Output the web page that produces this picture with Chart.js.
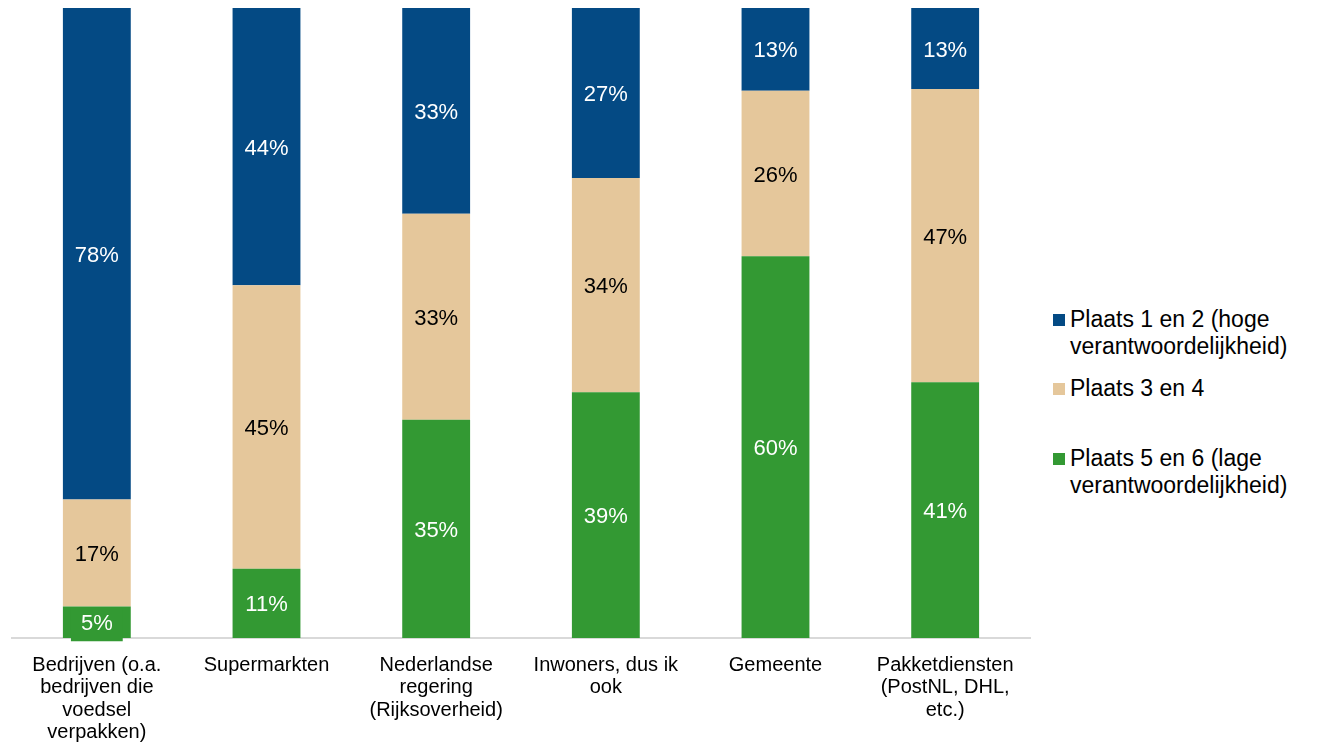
<!DOCTYPE html>
<html>
<head>
<meta charset="utf-8">
<script src="https://cdn.jsdelivr.net/npm/chart.js@4/dist/chart.umd.min.js"></script>
<style>
  body { margin: 0; background: #fff; font-family: "Liberation Sans", Arial, sans-serif; }
  #wrap { position: absolute; left: 0; top: 0; width: 1040px; height: 750px; }
  #legend { position: absolute; left: 1053px; top: 306px; font-size: 23px; line-height: 27px; color: #000; white-space: nowrap; }
  .item { position: relative; padding-left: 17px; }
  .box { position: absolute; left: 0; top: 8px; width: 12px; height: 12px; }
</style>
</head>
<body>
<div id="wrap"><canvas id="chart"></canvas></div>
<div id="legend"></div>
<script>
const categories = [
    ["Bedrijven (o.a.", "bedrijven die", "voedsel", "verpakken)"],
    ["Supermarkten"],
    ["Nederlandse", "regering", "(Rijksoverheid)"],
    ["Inwoners, dus ik", "ook"],
    ["Gemeente"],
    ["Pakketdiensten", "(PostNL, DHL,", "etc.)"]
];
const seriesNames = [
    ["Plaats 1 en 2 (hoge", "verantwoordelijkheid)"],
    ["Plaats 3 en 4"],
    ["Plaats 5 en 6 (lage", "verantwoordelijkheid)"]
];
const place12 = [78, 44, 33, 27, 13, 13];
const place34 = [17, 45, 33, 34, 26, 47];
const place56 = [5, 11, 35, 39, 60, 41];
const colors = ["#044a84", "#e5c79b", "#339933"];
const labelColors = ["#ffffff", "#000000", "#ffffff"];

const raw = [place12, place34, place56];
const totals = categories.map((_, i) => raw.reduce((s, arr) => s + arr[i], 0));

// green at the bottom, blue on top
const stackOrder = [2, 1, 0];

const valueLabels = {
    id: "valueLabels",
    afterDatasetsDraw(chart) {
        const ctx = chart.ctx;
        ctx.save();
        ctx.font = '22px "Liberation Sans", Arial, sans-serif';
        ctx.textAlign = "center";
        ctx.textBaseline = "middle";
        chart.data.datasets.forEach((ds, di) => {
            const meta = chart.getDatasetMeta(di);
            meta.data.forEach((bar, i) => {
                const txt = ds.rawValues[i] + "%";
                const cy = (bar.y + bar.base) / 2;
                const h = bar.base - bar.y;
                if (h < 34) {
                    // small segment: label gets its own box in the bar colour
                    const w = ctx.measureText(txt).width + 20;
                    ctx.fillStyle = ds.backgroundColor;
                    ctx.fillRect(bar.x - w / 2, cy - 15, w, 34);
                }
                ctx.fillStyle = ds.labelColor;
                ctx.fillText(txt, bar.x, cy + 2);
            });
        });
        ctx.restore();
    }
};

new Chart(document.getElementById("chart"), {
    type: "bar",
    data: {
        labels: categories,
        datasets: stackOrder.map(k => ({
            label: seriesNames[k].join(" "),
            data: raw[k].map((v, i) => v / totals[i] * 100),
            rawValues: raw[k],
            backgroundColor: colors[k],
            labelColor: labelColors[k],
            barPercentage: 0.4,
            categoryPercentage: 1
        }))
    },
    options: {
        responsive: true,
        maintainAspectRatio: false,
        animation: false,
        layout: { padding: { left: 12, right: 10, top: 8, bottom: 0 } },
        plugins: { legend: { display: false }, tooltip: { enabled: false } },
        scales: {
            x: {
                stacked: true,
                grid: { display: false },
                border: { display: true, color: "#d9d9d9", width: 2 },
                ticks: {
                    color: "#000",
                    padding: 8,
                    maxRotation: 0,
                    autoSkip: false,
                    font: { family: "Liberation Sans", size: 20, lineHeight: 1.12 }
                },
                afterFit(scale) { scale.height = 112; }
            },
            y: {
                stacked: true,
                display: false,
                min: 0,
                max: 100
            }
        }
    },
    plugins: [valueLabels]
});

const legendEl = document.getElementById("legend");
seriesNames.forEach((name, k) => {
    const item = document.createElement("div");
    item.className = "item";
    item.style.marginBottom = k === 0 ? "15px" : "43px";
    item.innerHTML = '<span class="box" style="background:' + colors[k] + '"></span>' + name.join("<br>");
    legendEl.appendChild(item);
});
</script>
</body>
</html>
